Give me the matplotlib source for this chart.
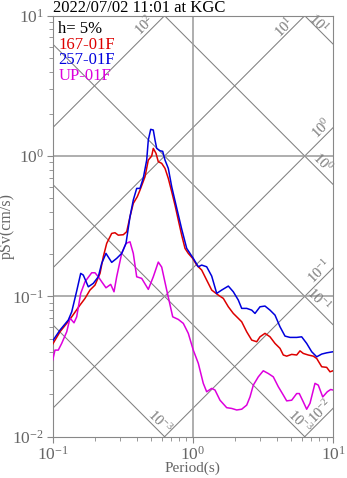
"""
Tripartite pseudo-velocity response spectrum (h=5%) at KGC
"""

import matplotlib
matplotlib.use("Agg")
import matplotlib.pyplot as plt
import numpy as np

plt.rcParams['font.family'] = ['Liberation Serif', 'DejaVu Serif']
plt.rcParams['mathtext.fontset'] = 'custom'
plt.rcParams['mathtext.rm'] = 'Liberation Serif'
plt.rcParams['mathtext.it'] = 'Liberation Serif:italic'

title = "2022/07/02 11:01 at KGC"
damping = "h= 5%"
names = ["167-01F", "257-01F", "UP-01F"]
colors = ["#dd0000", "#0000dd", "#dd00dd"]

# period (s), pSv (cm/s)
t_167 = [0.100, 0.1127, 0.1259, 0.1367, 0.1566, 0.1700, 0.1845, 0.2003, 0.2176, 0.2296,
         0.2428, 0.2636, 0.2783, 0.2938, 0.3190, 0.3373, 0.3560, 0.3759, 0.4014, 0.4197,
         0.4556, 0.4810, 0.5085, 0.5221, 0.5458, 0.5668, 0.5993, 0.6328, 0.6681, 0.7067,
         0.7458, 0.7874, 0.8325, 0.8790, 0.9279, 0.9975, 1.065, 1.156, 1.255, 1.363,
         1.519, 1.650, 1.791, 1.944, 2.110, 2.231, 2.423, 2.630, 2.855, 3.014,
         3.271, 3.552, 3.857, 4.187, 4.420, 4.673, 5.074, 5.508, 5.814, 6.138,
         6.663, 7.235, 7.650, 8.308, 9.016, 9.519, 10.0]
sv_167 = [0.0457, 0.0559, 0.0642, 0.0715, 0.0867, 0.0967, 0.1109, 0.1203, 0.1458, 0.1915,
          0.2385, 0.281, 0.284, 0.273, 0.275, 0.289, 0.369, 0.460, 0.513, 0.572,
          0.712, 0.936, 1.000, 1.134, 1.045, 0.911, 0.887, 0.817, 0.693, 0.556,
          0.447, 0.350, 0.273, 0.2198, 0.2024, 0.1865, 0.1671, 0.1540, 0.1306, 0.1109,
          0.1021, 0.0967, 0.0843, 0.0756, 0.0697, 0.0659, 0.0559, 0.0488, 0.0475, 0.0515,
          0.0545, 0.0515, 0.0462, 0.0426, 0.0382, 0.0375, 0.0386, 0.0382, 0.0409, 0.0392,
          0.0382, 0.0375, 0.0361, 0.0315, 0.0312, 0.0290, 0.0295]

t_257 = [0.100, 0.1127, 0.1292, 0.1367, 0.1483, 0.1584, 0.1653, 0.1795, 0.1949, 0.2115,
         0.2237, 0.2400, 0.2636, 0.2861, 0.3107, 0.3334, 0.3560, 0.3759, 0.3975, 0.4197,
         0.4430, 0.4685, 0.4810, 0.5003, 0.5221, 0.5370, 0.5521, 0.5828, 0.6093, 0.6328,
         0.6681, 0.7067, 0.7670, 0.8325, 0.9040, 1.007, 1.094, 1.156, 1.255, 1.363,
         1.480, 1.606, 1.791, 1.944, 2.110, 2.231, 2.423, 2.630, 2.776, 3.014,
         3.271, 3.552, 3.857, 4.187, 4.545, 4.934, 5.508, 5.978, 6.490, 7.047,
         7.650, 8.308, 9.016, 10.0]
sv_257 = [0.0482, 0.0575, 0.0678, 0.0776, 0.1091, 0.1458, 0.1418, 0.1170, 0.1238, 0.1379,
          0.1719, 0.2024, 0.1747, 0.1865, 0.2024, 0.2385, 0.369, 0.486, 0.588, 0.588,
          0.697, 0.936, 1.300, 1.550, 1.532, 1.300, 1.134, 1.091, 1.080, 0.936,
          0.817, 0.604, 0.426, 0.3017, 0.2198, 0.1865, 0.1625, 0.1671, 0.1625, 0.1395,
          0.1050, 0.1109, 0.1184, 0.1078, 0.0941, 0.0821, 0.0821, 0.0798, 0.0756, 0.0843,
          0.0853, 0.0798, 0.0735, 0.0607, 0.0521, 0.0510, 0.0510, 0.0515, 0.0462, 0.0403,
          0.0371, 0.0388, 0.0396, 0.0403]

t_up = [0.100, 0.1038, 0.1096, 0.1159, 0.1259, 0.1329, 0.1419, 0.1483, 0.1584, 0.1700,
        0.1898, 0.2003, 0.2115, 0.2237, 0.2400, 0.2593, 0.2738, 0.2861, 0.3107, 0.3334,
        0.3560, 0.3759, 0.3975, 0.4315, 0.4810, 0.5221, 0.5668, 0.5993, 0.6507, 0.7183,
        0.7874, 0.8549, 0.9279, 1.007, 1.094, 1.187, 1.255, 1.363, 1.439, 1.562,
        1.744, 1.893, 2.056, 2.231, 2.423, 2.557, 2.700, 2.931, 3.180, 3.454,
        3.750, 4.072, 4.420, 4.673, 5.074, 5.508, 5.748, 6.138, 6.490, 6.853,
        7.439, 7.853, 8.446, 9.105, 9.630, 10.0]
sv_up = [0.0351, 0.0414, 0.0414, 0.0462, 0.0559, 0.0700, 0.0648, 0.0715, 0.1050, 0.1271,
         0.1473, 0.1473, 0.1379, 0.1271, 0.1151, 0.1217, 0.1078, 0.1379, 0.2024, 0.2385,
         0.2449, 0.2024, 0.1379, 0.1343, 0.1122, 0.1379, 0.1755, 0.1617, 0.1109, 0.0715,
         0.0685, 0.0642, 0.0545, 0.0414, 0.0333, 0.0240, 0.0209, 0.0221, 0.0215, 0.0182,
         0.0161, 0.0159, 0.0155, 0.0157, 0.0168, 0.0192, 0.0233, 0.0267, 0.0295, 0.0282,
         0.0267, 0.0227, 0.0198, 0.0180, 0.0182, 0.0203, 0.0203, 0.0177, 0.0157, 0.0173,
         0.0240, 0.0233, 0.0192, 0.0209, 0.0217, 0.0215]

# diagonal guide levels: acceleration (cm/s^2) and displacement (cm)
sa_levels = [0.01, 0.1, 1, 10, 100, 1000]
sd_levels = [0.001, 0.01, 0.1, 1, 10]

# (text, period, pSv, rotation) for guide labels
guide_labels = [
    (r"$10^{2}$", 0.456, 8.45, 45),
    (r"$10^{1}$", 4.55, 8.17, 45),
    (r"$10^{1}$", 7.82, 8.73, -45),
    (r"$10^{0}$", 8.35, 1.58, 45),
    (r"$10^{0}$", 8.35, 0.89, -45),
    (r"$10^{-1}$", 8.07, 0.151, 45),
    (r"$10^{-1}$", 7.94, 0.094, -45),
    (r"$10^{-2}$", 8.10, 0.0152, 45),
    (r"$10^{-3}$", 5.82, 0.0127, -45),
    (r"$10^{-3}$", 0.583, 0.0127, -45),
]

W, H = 347, 478
fig = plt.figure(figsize=(W / 100, H / 100), dpi=100)
ax = fig.add_axes([52.7 / W, (H - 436.7) / H, (333 - 52.7) / W, (436.7 - 15.7) / H])
ax.set_xscale("log")
ax.set_yscale("log")
ax.set_xlim(0.1, 10)
ax.set_ylim(0.01, 10)

grey = "#666666"
T = np.array([0.1, 10.0])
for sa in sa_levels:
    ax.plot(T, sa * T / (2 * np.pi), color="#808080", lw=0.75, zorder=1)
for sd in sd_levels:
    ax.plot(T, 2 * np.pi * sd / T, color="#808080", lw=0.75, zorder=1)

ax.axvline(1.0, color="#999999", lw=1.1, zorder=1)
for yv in [0.1, 1.0]:
    ax.axhline(yv, color="#999999", lw=1.1, zorder=1)

for txt, tx, ty, rot in guide_labels:
    ax.text(tx, ty, txt, rotation=rot, fontsize=10.5, color="#777777",
            ha="center", va="center", rotation_mode="anchor", zorder=2)

ax.plot(t_167, sv_167, color=colors[0], lw=1.1, zorder=3)
ax.plot(t_257, sv_257, color=colors[1], lw=1.1, zorder=4)
ax.plot(t_up, sv_up, color=colors[2], lw=1.1, zorder=3)

ax.text(0.02, 0.959, damping, transform=ax.transAxes, fontsize=12, color="black")
for i, (nm, c) in enumerate(zip(names, colors)):
    ax.text(0.02, 0.922 - 0.0375 * i, nm, transform=ax.transAxes, fontsize=12, color=c)

ax.set_title(title, loc="left", fontsize=12, pad=2, x=0.0)
ax.set_xlabel("Period(s)", fontsize=11, color=grey, va="top")
ax.set_ylabel("pSv(cm/s)", fontsize=11.5, color=grey)
ax.xaxis.set_label_coords(0.5, -0.06)
ax.yaxis.set_label_coords(-0.134, 0.5)

for s in ax.spines.values():
    s.set_color("#888888")
ax.tick_params(which="both", colors="#888888", labelcolor=grey, labelsize=12.5,
               top=False, right=False, pad=2)
ax.tick_params(which="major", length=4.3)
ax.tick_params(which="minor", length=2.6)

plt.savefig("out.png", dpi=100)
